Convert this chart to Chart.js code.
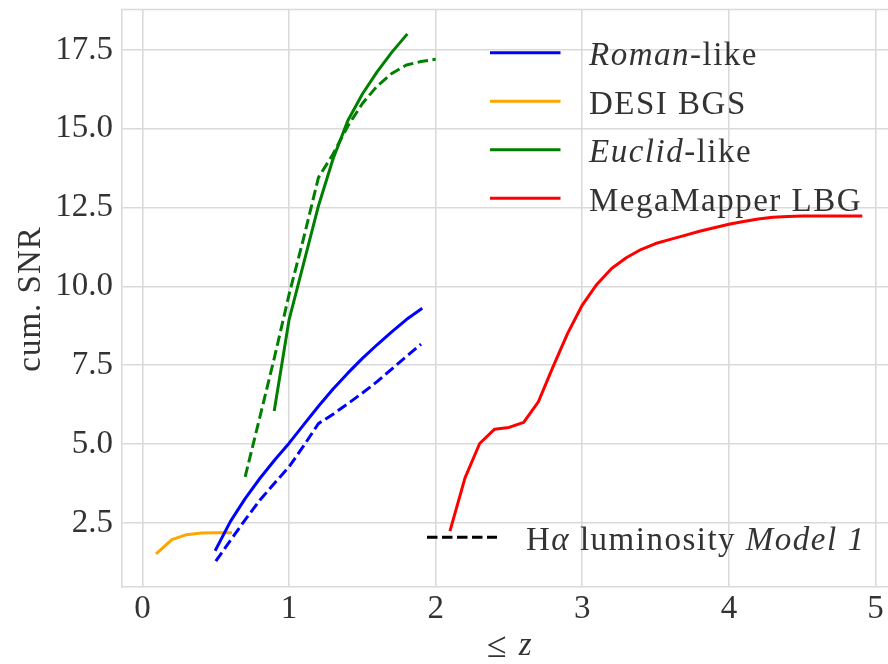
<!DOCTYPE html>
<html>
<head>
<meta charset="utf-8">
<script src="https://cdn.jsdelivr.net/npm/chart.js@4.4.1/dist/chart.umd.min.js"></script>
<style>
  html, body { margin: 0; padding: 0; background: #fff; }
  #wrap { width: 888px; height: 664px; overflow: hidden; }
</style>
</head>
<body>
<div id="wrap"><canvas id="snr" width="900" height="664"></canvas></div>
<script>
// cumulative SNR as a function of max redshift

// Roman-like (H-alpha)
const romanZ = [0.5, 0.6, 0.7, 0.8, 0.9, 1.0, 1.1, 1.2, 1.3, 1.4, 1.5, 1.6, 1.7, 1.8, 1.9];
const romanSNR = [1.66, 2.55, 3.27, 3.91, 4.49, 5.03, 5.62, 6.2, 6.75, 7.25, 7.72, 8.15, 8.56, 8.95, 9.28];
const romanSNRModel1 = [1.29, 1.95, 2.6, 3.22, 3.76, 4.28, 4.95, 5.65, 5.95, 6.28, 6.62, 6.98, 7.38, 7.78, 8.17];

// DESI BGS
const desiZ = [0.1, 0.2, 0.3, 0.4, 0.5, 0.6];
const desiSNR = [1.55, 1.97, 2.13, 2.18, 2.19, 2.19];

// Euclid-like
const euclidZ = [0.9, 1.0, 1.1, 1.2, 1.3, 1.4, 1.5, 1.6, 1.7, 1.8];
const euclidSNR = [6.1, 8.95, 10.75, 12.55, 14.05, 15.25, 16.1, 16.8, 17.42, 17.97];
const euclidZModel1 = [0.7, 0.8, 0.9, 1.0, 1.1, 1.2, 1.3, 1.4, 1.5, 1.6, 1.7, 1.8, 1.9, 2.0];
const euclidSNRModel1 = [3.96, 5.85, 7.75, 9.75, 11.55, 13.45, 14.2, 15.08, 15.8, 16.35, 16.75, 17.02, 17.13, 17.2];

// MegaMapper LBG
const mmZ = [2.1, 2.2, 2.3, 2.4, 2.5, 2.6, 2.7, 2.8, 2.9, 3.0, 3.1, 3.2, 3.3, 3.4, 3.5,
             3.6, 3.7, 3.8, 3.9, 4.0, 4.1, 4.2, 4.3, 4.4, 4.5, 4.6, 4.7, 4.8, 4.9];
const mmSNR = [2.29, 3.93, 5.02, 5.47, 5.53, 5.69, 6.34, 7.45, 8.51, 9.41, 10.07, 10.57, 10.91, 11.17, 11.36,
               11.49, 11.62, 11.75, 11.86, 11.97, 12.06, 12.14, 12.19, 12.22, 12.23, 12.23, 12.23, 12.23, 12.23];

const xTicks = [0, 1, 2, 3, 4, 5];
const yTicks = [2.5, 5.0, 7.5, 10.0, 12.5, 15.0, 17.5];

const FONT = '"Liberation Serif", "Times New Roman", serif';
const TEXT = '#333333';
const GRID = '#dadada';
const DASH = [10.5, 4.5];
const LW = 3;

function pts(xs, ys) {
    return xs.map((x, i) => ({ x: x, y: ys[i] }));
}

function line(data, color, dashed) {
    return {
        data: data,
        borderColor: color,
        borderWidth: LW,
        borderDash: dashed ? DASH : [],
        borderCapStyle: dashed ? 'butt' : 'square',
        borderJoinStyle: 'round',
        pointRadius: 0,
        tension: 0,
        fill: false
    };
}

// draw a piece of text made of upright / italic runs
function drawRuns(ctx, x, y, runs, size) {
    runs.forEach(r => {
        ctx.font = (r.it ? 'italic ' : '') + size + 'px ' + FONT;
        ctx.fillText(r.t, x, y);
        x += ctx.measureText(r.t).width;
    });
}

const legendItems = [
    { color: '#0000ff', runs: [{ t: 'Roman', it: true }, { t: '-like' }] },
    { color: '#ffa500', runs: [{ t: 'DESI BGS' }] },
    { color: '#008000', runs: [{ t: 'Euclid', it: true }, { t: '-like' }] },
    { color: '#ff0000', runs: [{ t: 'MegaMapper LBG' }] }
];

const overlay = {
    id: 'overlay',
    afterDraw(chart) {
        const ctx = chart.ctx;
        const area = chart.chartArea;
        ctx.save();

        // top spine
        ctx.strokeStyle = GRID;
        ctx.lineWidth = 1.6;
        ctx.beginPath();
        ctx.moveTo(area.left, area.top);
        ctx.lineTo(area.right, area.top);
        ctx.stroke();

        ctx.fillStyle = TEXT;
        ctx.textBaseline = 'alphabetic';
        ctx.textAlign = 'left';
        if ('letterSpacing' in ctx) ctx.letterSpacing = '1.5px';

        // main legend, upper right
        legendItems.forEach((item, i) => {
            const y = 52.7 + i * 48.5;
            ctx.strokeStyle = item.color;
            ctx.lineWidth = LW;
            ctx.setLineDash([]);
            ctx.lineCap = 'butt';
            ctx.beginPath();
            ctx.moveTo(490, y);
            ctx.lineTo(560.5, y);
            ctx.stroke();
            drawRuns(ctx, 589, y + 12.5, item.runs, 33);
        });

        // line style legend
        ctx.strokeStyle = '#000000';
        ctx.setLineDash(DASH);
        ctx.beginPath();
        ctx.moveTo(427, 537.3);
        ctx.lineTo(497, 537.3);
        ctx.stroke();
        ctx.setLineDash([]);
        drawRuns(ctx, 526, 549.5, [
            { t: 'H' }, { t: 'α', it: true }, { t: ' luminosity ' }, { t: 'Model 1', it: true }
        ], 33);

        // x title
        ctx.textBaseline = 'middle';
        const le = '≤ ';
        ctx.font = '36px ' + FONT;
        const w1 = ctx.measureText(le).width;
        ctx.font = 'italic 33px ' + FONT;
        const w2 = ctx.measureText('z').width;
        const x0 = 510 - (w1 + w2) / 2;
        ctx.font = '36px ' + FONT;
        ctx.fillText(le, x0, 648);
        ctx.font = 'italic 33px ' + FONT;
        ctx.fillText('z', x0 + w1, 646);

        // y title
        ctx.translate(31, 299);
        ctx.rotate(-Math.PI / 2);
        ctx.textAlign = 'center';
        ctx.font = '33px ' + FONT;
        if ('letterSpacing' in ctx) ctx.letterSpacing = '1px';
        ctx.fillText('cum. SNR', 0, 0);

        ctx.restore();
    }
};

new Chart(document.getElementById('snr'), {
    type: 'line',
    data: {
        datasets: [
            line(pts(mmZ, mmSNR), '#ff0000', false),
            line(pts(euclidZModel1, euclidSNRModel1), '#008000', true),
            line(pts(euclidZ, euclidSNR), '#008000', false),
            line(pts(desiZ, desiSNR), '#ffa500', false),
            line(pts(romanZ, romanSNRModel1), '#0000ff', true),
            line(pts(romanZ, romanSNR), '#0000ff', false)
        ].reverse()
    },
    options: {
        responsive: false,
        animation: false,
        layout: { padding: { left: 0, top: 9.5, right: 4, bottom: 0 } },
        plugins: {
            legend: { display: false },
            tooltip: { enabled: false }
        },
        scales: {
            x: {
                type: 'linear',
                min: -0.14,
                max: 5.14,
                afterBuildTicks: (scale) => { scale.ticks = xTicks.map(v => ({ value: v })); },
                afterFit: (scale) => {
                    scale.height = 77;
                    scale.paddingLeft = 0;
                    scale.paddingRight = 0;
                },
                grid: { color: GRID, lineWidth: 1.6, drawTicks: false },
                border: { display: true, color: GRID, width: 1.6 },
                ticks: {
                    color: TEXT,
                    padding: 3,
                    maxRotation: 0,
                    autoSkip: false,
                    font: { family: FONT, size: 33 },
                    callback: (v) => String(v)
                }
            },
            y: {
                min: 0.47,
                max: 18.78,
                afterBuildTicks: (scale) => { scale.ticks = yTicks.map(v => ({ value: v })); },
                afterFit: (scale) => {
                    scale.width = 122;
                    scale.paddingTop = 0;
                    scale.paddingBottom = 0;
                },
                grid: { color: GRID, lineWidth: 1.6, drawTicks: false },
                border: { display: true, color: GRID, width: 1.6 },
                ticks: {
                    color: TEXT,
                    padding: 9,
                    autoSkip: false,
                    font: { family: FONT, size: 33 },
                    callback: (v) => v.toFixed(1)
                }
            }
        }
    },
    plugins: [overlay]
});
</script>
</body>
</html>
